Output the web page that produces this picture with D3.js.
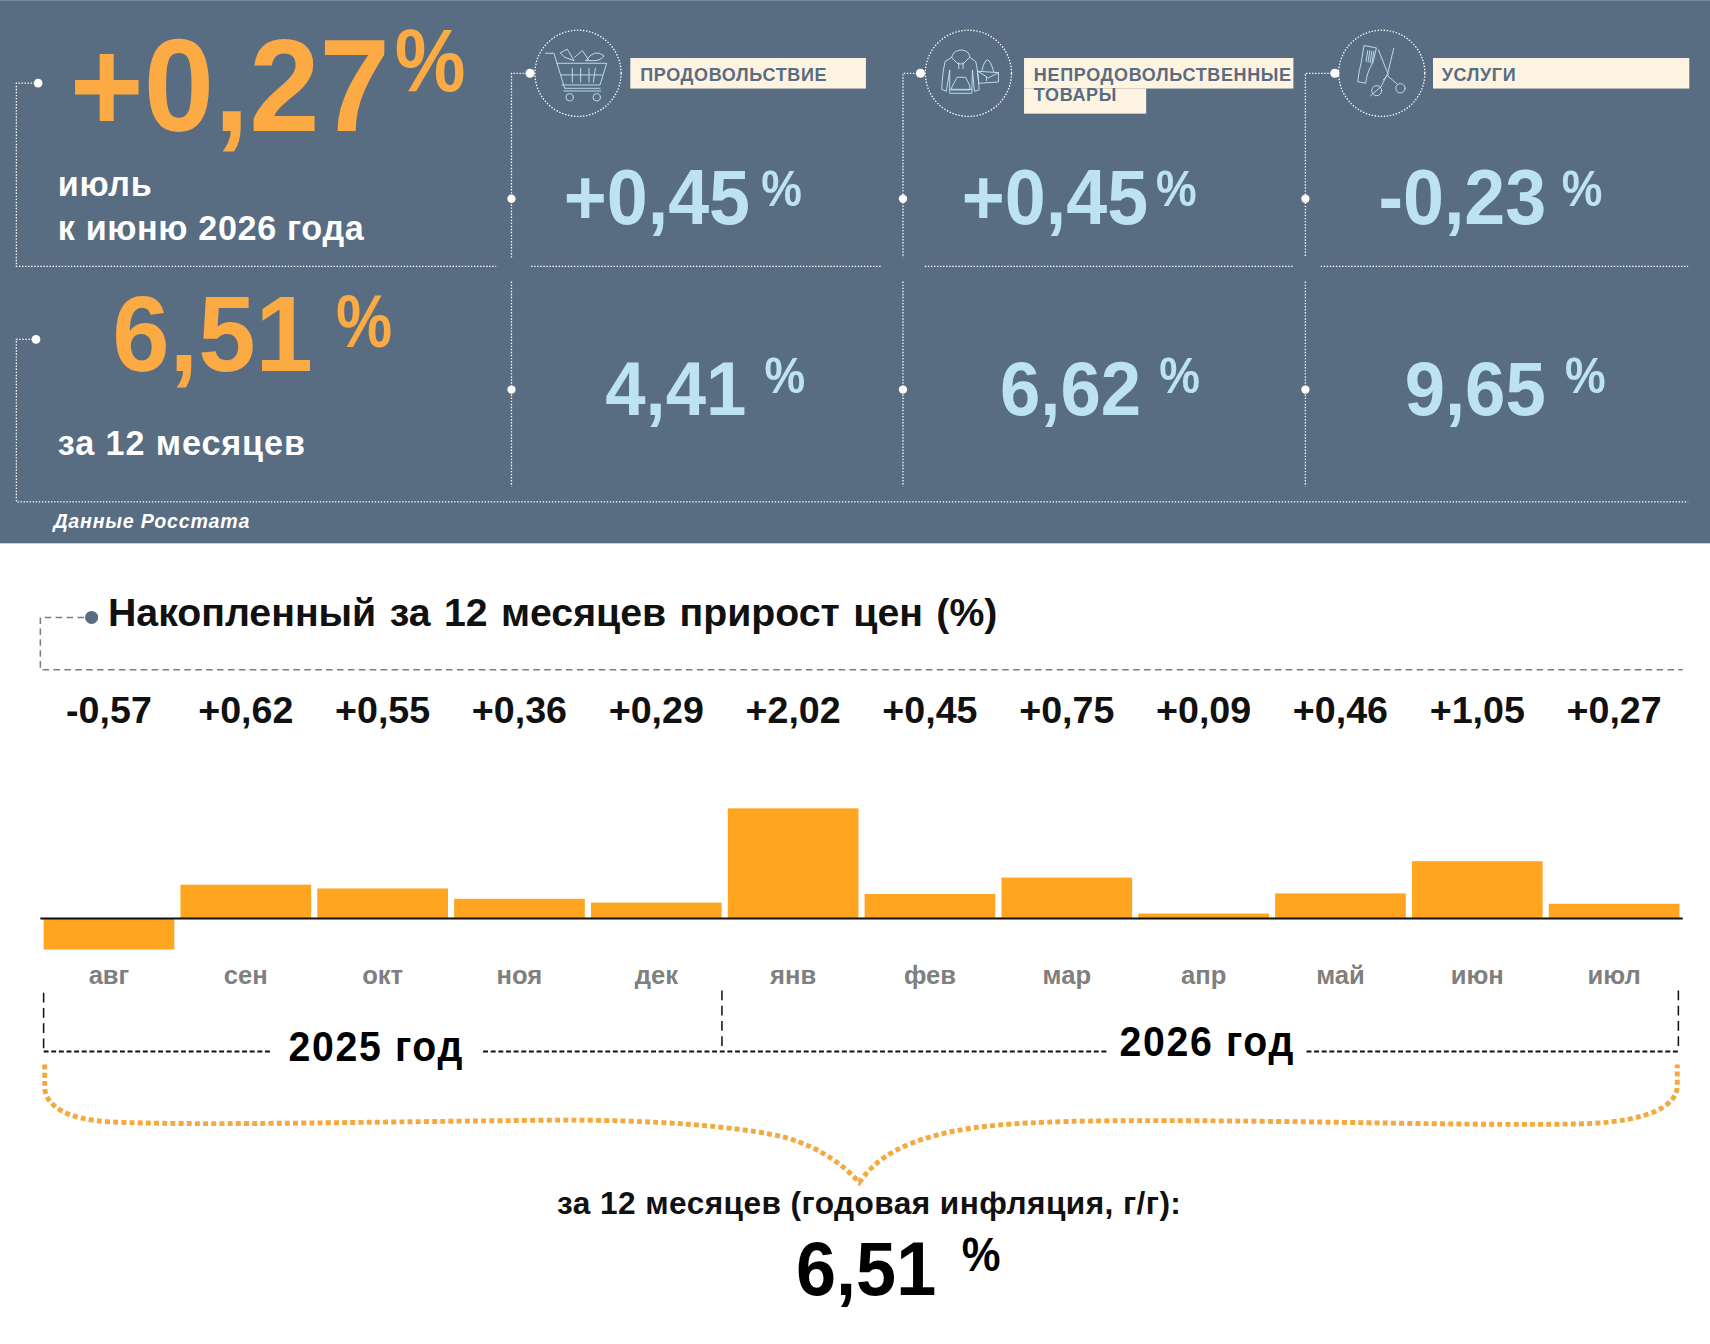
<!DOCTYPE html>
<html lang="ru">
<head>
<meta charset="utf-8">
<script src="https://cdn.jsdelivr.net/npm/d3@7"></script>
<style>
html, body { margin: 0; padding: 0; background: #fff; }
svg { display: block; }
text { font-family: "Liberation Sans", Arial, sans-serif; font-weight: bold; }
.dots { fill: none; stroke: #fff; stroke-width: 1.2; stroke-dasharray: 1.3 1.5; }
.icon { fill: none; stroke: #bfe3f2; stroke-width: 2.8; stroke-linejoin: round; stroke-linecap: round; }
.dash { fill: none; stroke: #111; stroke-width: 2; stroke-dasharray: 4.5 2.5; }
.dash-v { fill: none; stroke: #111; stroke-width: 1.4; stroke-dasharray: 9 5; }
</style>
</head>
<body>
<div id="chart"></div>
<script>
// monthly change, %
let months = ['авг', 'сен', 'окт', 'ноя', 'дек', 'янв', 'фев', 'мар', 'апр', 'май', 'июн', 'июл'],
    monthly = [-0.57, 0.62, 0.55, 0.36, 0.29, 2.02, 0.45, 0.75, 0.09, 0.46, 1.05, 0.27];

let categories = [['ПРОДОВОЛЬСТВИЕ'], ['НЕПРОДОВОЛЬСТВЕННЫЕ', 'ТОВАРЫ'], ['УСЛУГИ']],
    categoryMonth = [0.45, 0.45, -0.23],
    categoryYear = [4.41, 6.62, 9.65],
    totalMonth = 0.27,
    totalYear = 6.51;

let signed = (v) => (v > 0 ? '+' : '-') + Math.abs(v).toFixed(2).replace('.', ','),
    plain = (v) => v.toFixed(2).replace('.', ',');

// the layout was measured on a 1568 wide copy of the picture
let svg = d3.select('#chart').append('svg')
    .attr('width', 1710)
    .attr('height', 1344)
    .attr('viewBox', '0 0 1568 1232');

// k stretches the glyphs upward from the baseline, the original text is drawn taller than it is wide
function label(parent, x, y, str, size, color, anchor, k) {
    let t = parent.append('text')
	.attr('x', x)
	.attr('y', y)
	.attr('font-size', size)
	.attr('fill', color)
	.attr('text-anchor', anchor || 'start')
	.text(str);
    if (k) t.attr('transform', 'translate(0,' + (y * (1 - k)) + ') scale(1,' + k + ')');
    return t;
}

function dots(parent, d) {
    parent.append('path').attr('class', 'dots').attr('d', d);
}

function dot(parent, x, y, r, color) {
    parent.append('circle').attr('cx', x).attr('cy', y).attr('r', r).attr('fill', color || '#fff');
}

// top panel
let top_ = svg.append('g');
let orange = '#fbaa44', pale = '#bde3f3', slate = '#586c82';

top_.append('rect').attr('width', 1568).attr('height', 498).attr('fill', slate);

label(top_, 64, 120, signed(totalMonth), 116, orange, null, 1.04);
label(top_, 362, 83, '%', 73, orange, null, 1.12);
label(top_, 53, 180, 'июль', 31.3, '#fff', null, 1.04).attr('letter-spacing', 0.6);
label(top_, 53, 220, 'к июню 2026 года', 31.3, '#fff', null, 1.04).attr('letter-spacing', 0.6);
label(top_, 103, 340, plain(totalYear), 94.5, orange, null, 1.05);
label(top_, 308, 318, '%', 58, orange, null, 1.18);
label(top_, 53, 417, 'за 12 месяцев', 31.3, '#fff', null, 1.04).attr('letter-spacing', 0.85);
label(top_, 49, 484, 'Данные Росстата', 18, '#fff')
    .attr('font-style', 'italic')
    .attr('letter-spacing', 0.7);

dots(top_, 'M35 76H15V244H455');
dots(top_, 'M33 311H15V460H1548');
dot(top_, 35, 76, 4);
dot(top_, 33, 311, 4);

let colX = [469, 828, 1197],
    dotX = [486, 844, 1224],
    circleX = [530, 888, 1267],
    ruleX = [[487, 808], [848, 1186], [1211, 1548]],
    tagX = [[578, 794], [939, 1186], [1314, 1549]],
    monthX = [517, 882, 1264],
    monthPctX = [698, 1060, 1432],
    yearX = [555, 917, 1288],
    yearPctX = [701, 1063, 1435];

let icons = [
    ['M75 100H100L132 205H238', 'M108 130H258L238 195H124', 'M122 165H245', 'M155 145V187M180 145V187M205 145V187M224 145L218 187',
     'M130 213H240', 'M120 98L140 88L160 122L132 112Z', 'M162 112L185 92L204 120', 'M195 122Q222 84 250 108Q240 126 200 122Z'],
    ['M122 112L102 125Q94 160 92 208L106 214L116 150L116 220H182L184 150L190 214L204 210Q202 160 194 125L176 112',
     'M122 112Q125 92 150 90Q175 92 176 112L156 132H142Z', 'M143 128V146M156 128V146', 'M124 198L138 172H164L176 198V210H122Z', 'M116 208H182',
     'M200 154L262 158V186L204 190Z', 'M200 154L232 174L262 158', 'M212 154Q228 84 248 156', 'M226 172V182'],
    ['M120 77L156 84L146 126Q126 160 124 190L100 185Q104 150 110 130Z', 'M130 92L125 124M136 93L131 126M142 94L137 128M148 95L143 130',
     'M162 90L192 165L176 180', 'M208 85L190 160L172 196', 'M192 170L218 192', 'M172 198L138 228']
];
let iconRings = [
    [[147, 232, 11], [228, 232, 11]],
    [],
    [[157, 212, 15], [228, 205, 14]]
];

categories.forEach(function(cat, i) {
    let g = top_.append('g');
    dots(g, 'M' + dotX[i] + ' 67H' + colX[i] + 'V236');
    dots(g, 'M' + colX[i] + ' 258V446');
    dots(g, 'M' + ruleX[i][0] + ' 244H' + ruleX[i][1]);
    dot(g, dotX[i], 67, 4.2);
    dot(g, colX[i], 182, 3.8);
    dot(g, colX[i], 357, 3.8);
    g.append('circle').attr('class', 'dots')
	.attr('cx', circleX[i]).attr('cy', 67).attr('r', 39.5);

    let icon = g.append('g')
	.attr('transform', 'translate(' + circleX[i] + ',67) scale(.306) translate(-172,-160)');
    icons[i].forEach((d) => icon.append('path').attr('class', 'icon').attr('d', d));
    iconRings[i].forEach((c) => icon.append('circle').attr('class', 'icon')
			 .attr('cx', c[0]).attr('cy', c[1]).attr('r', c[2]));

    g.append('rect').attr('x', tagX[i][0]).attr('y', 53)
	.attr('width', tagX[i][1] - tagX[i][0]).attr('height', 28).attr('fill', '#fff3e1');
    if (cat.length > 1) {
	g.append('rect').attr('x', tagX[i][0]).attr('y', 81)
	    .attr('width', 112).attr('height', 23).attr('fill', '#fff3e1');
    }
    cat.forEach(function(line, j) {
	label(g, tagX[i][0] + (i == 2 ? 8 : 9), 74 + j * 18, line, 16.5, slate).attr('letter-spacing', 0.6);
    });

    label(g, monthX[i], 205, signed(categoryMonth[i]), 67.5, pale, null, 1.05);
    label(g, monthPctX[i], 189, '%', 42, pale, null, 1.1);
    label(g, yearX[i], 380, plain(categoryYear[i]), 66.5, pale, null, 1.05);
    label(g, yearPctX[i], 360, '%', 42, pale, null, 1.1);
});

// bars
let x = d3.scaleBand().domain(months).range([40, 1540]).paddingInner(0.045);
let y = d3.scaleLinear().domain([0, 2.02]).range([842, 741]);

let chart = svg.append('g');

label(chart, 99, 574, 'Накопленный за 12 месяцев прирост цен (%)', 36, '#111').attr('word-spacing', 2.3);
chart.append('path')
    .attr('d', 'M77 566H37V614H1543')
    .attr('fill', 'none')
    .attr('stroke', '#747f8b')
    .attr('stroke-width', 1.4)
    .attr('stroke-dasharray', '6 4');
dot(chart, 84, 566, 6, slate);

chart.selectAll('.bar')
    .data(months)
    .enter().append('rect')
    .attr('class', 'bar')
    .attr('x', (d) => x(d))
    .attr('width', x.bandwidth())
    .attr('y', (d, i) => Math.min(y(0), y(monthly[i])))
    .attr('height', (d, i) => Math.abs(y(monthly[i]) - y(0)))
    .attr('fill', '#ffa51f');

chart.append('line')
    .attr('x1', 37).attr('x2', 1543)
    .attr('y1', y(0)).attr('y2', y(0))
    .attr('stroke', '#111').attr('stroke-width', 2);

chart.selectAll('.value')
    .data(months)
    .enter().append('text')
    .attr('class', 'value')
    .attr('x', (d) => x(d) + x.bandwidth() / 2)
    .attr('y', 663)
    .attr('text-anchor', 'middle')
    .attr('font-size', 34.5)
    .attr('fill', '#111')
    .text((d, i) => signed(monthly[i]));

let xAxis = d3.axisBottom(x).tickSize(0).tickPadding(43);
let axisG = chart.append('g')
    .attr('transform', 'translate(0,' + y(0) + ')')
    .call(xAxis);
axisG.select('.domain').remove();
axisG.selectAll('text')
    .style('font-family', '"Liberation Sans", Arial, sans-serif')
    .attr('font-size', 23.5)
    .attr('fill', '#7f7f7f');

// year brackets
chart.append('path').attr('class', 'dash')
    .attr('d', 'M40 964H248M443 964H1017M1198 964H1540');
chart.append('path').attr('class', 'dash-v')
    .attr('d', 'M40 910V964M662 908V964M1539 908V964');
label(chart, 345, 973, '2025 год', 36, '#000', 'middle', 1.1).attr('letter-spacing', 1.5);
label(chart, 1107, 968, '2026 год', 36, '#000', 'middle', 1.1).attr('letter-spacing', 1.5);

// brace down to the yearly figure
chart.append('path')
    .attr('d', 'M41 976V998C43 1015 62 1026 100 1028.5C180 1032 300 1029 500 1027C600 1026 680 1033 720 1042.7'
	  + 'C755 1053 775 1070 788 1084C798 1070 815 1050 870 1038C920 1027 1000 1026 1200 1028.5'
	  + 'C1300 1030 1400 1032 1460 1030C1510 1027 1538 1015 1538 995V976')
    .attr('fill', 'none')
    .attr('stroke', '#f4a83d')
    .attr('stroke-width', 4.5)
    .attr('stroke-dasharray', '4.5 3');

label(chart, 797, 1113, 'за 12 месяцев (годовая инфляция, г/г):', 29, '#111', 'middle').attr('letter-spacing', 0.4);
label(chart, 730, 1187, plain(totalYear), 66, '#000', null, 1.06);
label(chart, 882, 1165, '%', 40, '#000', null, 1.1);
</script>
</body>
</html>
